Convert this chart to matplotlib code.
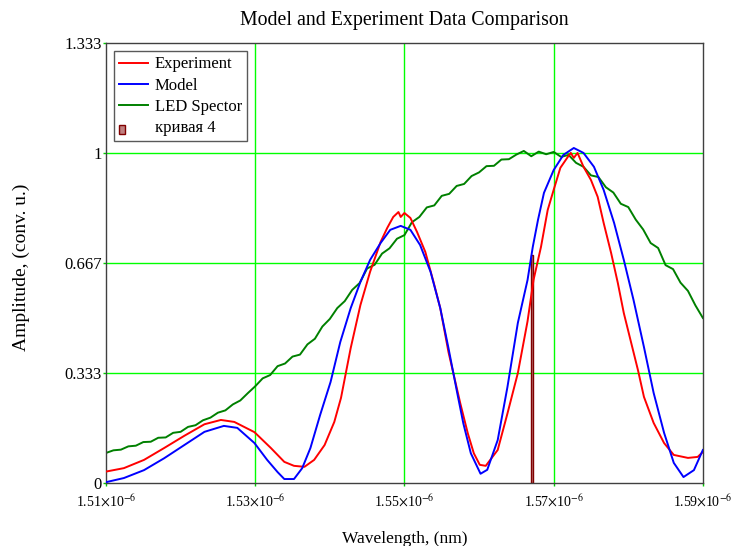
import matplotlib
matplotlib.use("Agg")
import matplotlib.pyplot as plt
import matplotlib.ticker as mticker
import matplotlib.patches as mpatches
from matplotlib.lines import Line2D
from matplotlib.legend_handler import HandlerPatch
import numpy as np

# wavelength in micrometres (scaled to metres when drawn)
wl_model = [1.5101, 1.5124, 1.5151, 1.5178, 1.5205, 1.5232, 1.5258, 1.5276, 1.5299,
            1.5316, 1.5330, 1.5339, 1.5352, 1.5363, 1.5374, 1.5387, 1.5401, 1.5414,
            1.5428, 1.5441, 1.5454, 1.5468, 1.5481, 1.5495, 1.5508, 1.5521, 1.5535,
            1.5548, 1.5559, 1.5571, 1.5579, 1.5589, 1.5602, 1.5611, 1.5625, 1.5638,
            1.5652, 1.5665, 1.5672, 1.5679, 1.5687, 1.5700, 1.5713, 1.5727, 1.5740,
            1.5754, 1.5767, 1.5781, 1.5794, 1.5807, 1.5821, 1.5834, 1.5848, 1.5861,
            1.5874, 1.5888, 1.5900]
amp_model = [0.003, 0.015, 0.039, 0.075, 0.115, 0.155, 0.173, 0.167, 0.121,
             0.070, 0.033, 0.012, 0.012, 0.045, 0.106, 0.206, 0.306, 0.427,
             0.530, 0.609, 0.676, 0.727, 0.767, 0.779, 0.767, 0.721, 0.640,
             0.530, 0.409, 0.270, 0.180, 0.090, 0.028, 0.040, 0.130, 0.290,
             0.485, 0.615, 0.715, 0.797, 0.879, 0.948, 0.994, 1.015, 1.000,
             0.958, 0.888, 0.788, 0.676, 0.555, 0.412, 0.273, 0.152, 0.061,
             0.018, 0.039, 0.100]

wl_exp = [1.5101, 1.5124, 1.5151, 1.5178, 1.5205, 1.5232, 1.5254, 1.5272, 1.5299,
          1.5321, 1.5339, 1.5352, 1.5366, 1.5379, 1.5393, 1.5406, 1.5415, 1.5428,
          1.5441, 1.5454, 1.5468, 1.5477, 1.5485, 1.5492, 1.5495, 1.5500, 1.5508,
          1.5517, 1.5528, 1.5539, 1.5548, 1.5559, 1.5575, 1.5585, 1.5593, 1.5601,
          1.5609, 1.5625, 1.5638, 1.5652, 1.5665, 1.5673, 1.5683, 1.5692, 1.5700,
          1.5709, 1.5719, 1.5723, 1.5727, 1.5732, 1.5740, 1.5750, 1.5759, 1.5767,
          1.5777, 1.5786, 1.5794, 1.5803, 1.5813, 1.5821, 1.5834, 1.5848, 1.5861,
          1.5880, 1.5893, 1.5900]
amp_exp = [0.035, 0.045, 0.070, 0.106, 0.143, 0.178, 0.191, 0.185, 0.154,
           0.106, 0.064, 0.052, 0.049, 0.070, 0.115, 0.185, 0.258, 0.409,
           0.539, 0.640, 0.730, 0.773, 0.806, 0.821, 0.806, 0.818, 0.803,
           0.760, 0.700, 0.609, 0.530, 0.397, 0.240, 0.150, 0.090, 0.055,
           0.052, 0.100, 0.210, 0.333, 0.490, 0.615, 0.715, 0.827, 0.888,
           0.955, 0.988, 1.000, 0.985, 1.000, 0.958, 0.918, 0.867, 0.788,
           0.697, 0.606, 0.515, 0.433, 0.342, 0.261, 0.182, 0.121, 0.085,
           0.076, 0.079, 0.094]

wl_led = [1.510, 1.511, 1.512, 1.513, 1.514, 1.515, 1.516, 1.517, 1.518, 1.519,
          1.520, 1.521, 1.522, 1.523, 1.524, 1.525, 1.526, 1.527, 1.528, 1.529,
          1.530, 1.531, 1.532, 1.533, 1.534, 1.535, 1.536, 1.537, 1.538, 1.539,
          1.540, 1.541, 1.542, 1.543, 1.544, 1.545, 1.546, 1.547, 1.548, 1.549,
          1.550, 1.551, 1.552, 1.553, 1.554, 1.555, 1.556, 1.557, 1.558, 1.559,
          1.560, 1.561, 1.562, 1.563, 1.564, 1.565, 1.566, 1.567, 1.568, 1.569,
          1.570, 1.571, 1.572, 1.573, 1.574, 1.575, 1.576, 1.577, 1.578, 1.579,
          1.580, 1.581, 1.582, 1.583, 1.584, 1.585, 1.586, 1.587, 1.588, 1.589,
          1.590]
amp_led = [0.091, 0.099, 0.101, 0.111, 0.113, 0.124, 0.125, 0.137, 0.138, 0.152,
           0.155, 0.170, 0.175, 0.190, 0.198, 0.213, 0.220, 0.238, 0.250, 0.272,
           0.293, 0.317, 0.327, 0.354, 0.362, 0.383, 0.389, 0.420, 0.437, 0.474,
           0.497, 0.530, 0.551, 0.585, 0.606, 0.650, 0.661, 0.695, 0.711, 0.740,
           0.751, 0.790, 0.806, 0.835, 0.841, 0.870, 0.876, 0.900, 0.906, 0.930,
           0.941, 0.960, 0.961, 0.980, 0.981, 0.995, 1.006, 0.990, 1.004, 0.996,
           1.003, 0.988, 0.994, 0.970, 0.958, 0.932, 0.927, 0.896, 0.880, 0.846,
           0.836, 0.798, 0.768, 0.727, 0.712, 0.660, 0.648, 0.607, 0.582, 0.538,
           0.500]

wl_curve4 = [1.5671]
amp_curve4 = [0.69]

xticks = [1.51, 1.53, 1.55, 1.57, 1.59]
yticks = [0, 0.333, 0.667, 1, 1.333]
ytick_labels = ["0", "0.333", "0.667", "1", "1.333"]

plt.rcParams['font.family'] = ['Liberation Serif', 'DejaVu Serif']
plt.rcParams['mathtext.fontset'] = 'stix'

fig = plt.figure(figsize=(7.36, 5.46), dpi=100)
ax = fig.add_axes([0.144, 0.1154, 0.811, 0.8058])

# grid
for xv in xticks[1:-1]:
    ax.axvline(xv * 1e-6, color='#00ff00', lw=1.0, zorder=1)
for yv in yticks[1:-1]:
    ax.axhline(yv, color='#00ff00', lw=1.0, zorder=1)

s = 1e-6
ax.plot(np.array(wl_led) * s, amp_led, color='#008000', lw=1.4, zorder=2)
ax.plot(np.array(wl_exp) * s, amp_exp, color='#ff0000', lw=1.4, zorder=3)
ax.plot(np.array(wl_model) * s, amp_model, color='#0000ff', lw=1.4, zorder=4)
ax.bar(np.array(wl_curve4) * s, amp_curve4, width=0.00036e-6, color='#c08080',
       edgecolor='#800000', lw=1.0, zorder=2)

ax.set_xlim(1.51e-6, 1.59e-6)
ax.set_ylim(0, 1.333)


def sci(x, pos):
    return r"%.2f$\times$10$^{-6}$" % (x * 1e6)


ax.set_xticks([v * s for v in xticks])
ax.xaxis.set_major_formatter(mticker.FuncFormatter(sci))
ax.set_yticks(yticks)
ax.set_yticklabels(ytick_labels)
ax.tick_params(axis='both', length=2, width=1, color='#00cc00')
ax.tick_params(axis='x', pad=5, labelsize=10)
ax.tick_params(axis='y', pad=1, labelsize=12)

for sp in ax.spines.values():
    sp.set_color('#404040')
    sp.set_linewidth(1.0)

ax.set_title('Model and Experiment Data Comparison', fontsize=14.3, pad=13)
ax.set_xlabel('Wavelength, (nm)', fontsize=12.5)
ax.set_ylabel('Amplitude, (conv. u.)', fontsize=14)
ax.xaxis.set_label_coords(0.5, -0.108)
ax.yaxis.set_label_coords(-0.128, 0.49)


# legend: small bar glyph for curve 4
def small_bar(legend, orig_handle, xdescent, ydescent, width, height, fontsize):
    return mpatches.Rectangle((-xdescent, -ydescent - 1), width * 0.2, height * 0.75)


handles = [Line2D([], [], color='#ff0000', lw=1.4),
           Line2D([], [], color='#0000ff', lw=1.4),
           Line2D([], [], color='#008000', lw=1.4),
           mpatches.Rectangle((0, 0), 1, 1, facecolor='#c08080', edgecolor='#800000', lw=1.0)]
labels = ['Experiment', 'Model', 'LED Spector', 'кривая 4']
leg = ax.legend(handles, labels, loc='upper left', fontsize=12, frameon=True, fancybox=False,
                borderpad=0.3, labelspacing=0.32, handlelength=1.7, handletextpad=0.42,
                borderaxespad=0.5, handler_map={mpatches.Rectangle: HandlerPatch(patch_func=small_bar)})
leg.get_frame().set_edgecolor('#303030')
leg.get_frame().set_linewidth(1.0)

fig.savefig('out.png', dpi=100)
